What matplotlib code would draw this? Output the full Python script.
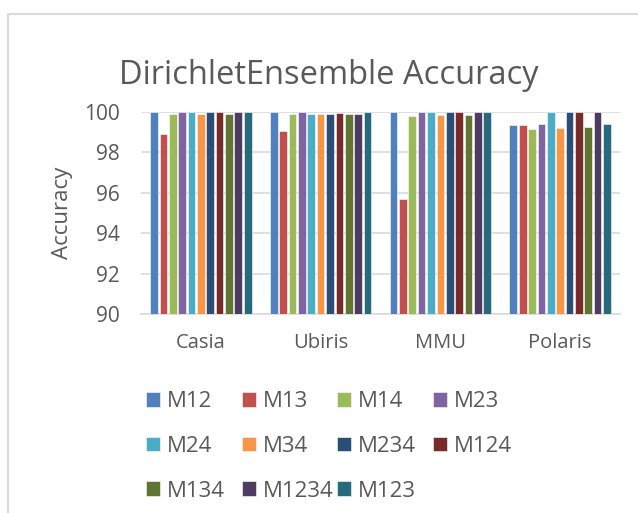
import matplotlib.pyplot as plt
import numpy as np
from matplotlib.patches import Rectangle

datasets = ["Casia", "Ubiris", "MMU", "Polaris"]
models = ["M12", "M13", "M14", "M23", "M24", "M34", "M234", "M124", "M134", "M1234", "M123"]
accuracy = {
    "M12": [100.0, 100.0, 100.0, 99.36],
    "M13": [98.9, 99.06, 95.7, 99.36],
    "M14": [99.92, 99.92, 99.79, 99.14],
    "M23": [100.0, 100.0, 100.0, 99.39],
    "M24": [100.0, 99.92, 100.0, 100.0],
    "M34": [99.92, 99.88, 99.83, 99.22],
    "M234": [100.0, 99.92, 100.0, 100.0],
    "M124": [100.0, 99.95, 100.0, 100.0],
    "M134": [99.92, 99.92, 99.83, 99.24],
    "M1234": [100.0, 99.92, 100.0, 100.0],
    "M123": [100.0, 100.0, 100.0, 99.39],
}
colors = ["#4F81BD", "#C0504D", "#9BBB59", "#8064A2", "#4BACC6", "#F79646",
          "#2C4D75", "#772C2A", "#5F7530", "#4D3B62", "#276A7C"]

text_color = "#595959"
plt.rcParams["font.family"] = ["Open Sans", "DejaVu Sans"]

fig = plt.figure(figsize=(6.38, 5.13), dpi=100)
fig.patches.append(Rectangle((8 / 638, -0.1), 2, 1.1 - 14 / 513,
                             transform=fig.transFigure, fill=False,
                             edgecolor="#D9D9D9", linewidth=1.5))

ax = fig.add_axes([141 / 638, 1 - 314 / 513, (620 - 141) / 638, (314 - 112) / 513])
x = np.arange(len(datasets))
group = 0.86
slot = group / len(models)
handles = []
for i, m in enumerate(models):
    b = ax.bar(x - group / 2 + slot * (i + 0.5), np.array(accuracy[m]) - 90, bottom=90,
               width=slot * 0.82, color=colors[i], edgecolor="white", linewidth=0.4,
               label=m, zorder=3)
    handles.append(b)

ax.set_ylim(90, 100)
ax.set_xlim(-0.5, len(datasets) - 0.5)
ax.set_yticks(np.arange(90, 101, 2))
ax.set_xticks(x)
ax.set_xticklabels(datasets)
ax.grid(axis="y", color="#D9D9D9", linewidth=1.2, zorder=0)
for s in ["top", "right", "left"]:
    ax.spines[s].set_visible(False)
ax.spines["bottom"].set_color("#D9D9D9")
ax.spines["bottom"].set_linewidth(1.2)
ax.tick_params(length=0, colors=text_color)
ax.tick_params(axis="y", labelsize=15, pad=15)
ax.tick_params(axis="x", labelsize=14.5, pad=14)
ax.set_ylabel("Accuracy", fontsize=16, color=text_color, labelpad=8)

fig.text(329 / 638, 1 - 84 / 513, "DirichletEnsemble Accuracy", fontsize=23.5,
         color=text_color, ha="center", va="baseline")

# legend laid out row by row, four fixed columns
col_x = [146, 242, 337, 433]
for c, cx in enumerate(col_x):
    idx = list(range(c, len(models), 4))
    fig.legend([handles[i] for i in idx], [models[i] for i in idx],
               loc="upper left", bbox_to_anchor=(cx / 638, 1 - 391 / 513),
               frameon=False, fontsize=16, labelcolor=text_color,
               handlelength=0.64, handleheight=0.64, handletextpad=0.3,
               labelspacing=1.07, borderpad=0, borderaxespad=0)

fig.savefig("out.png", dpi=100)
